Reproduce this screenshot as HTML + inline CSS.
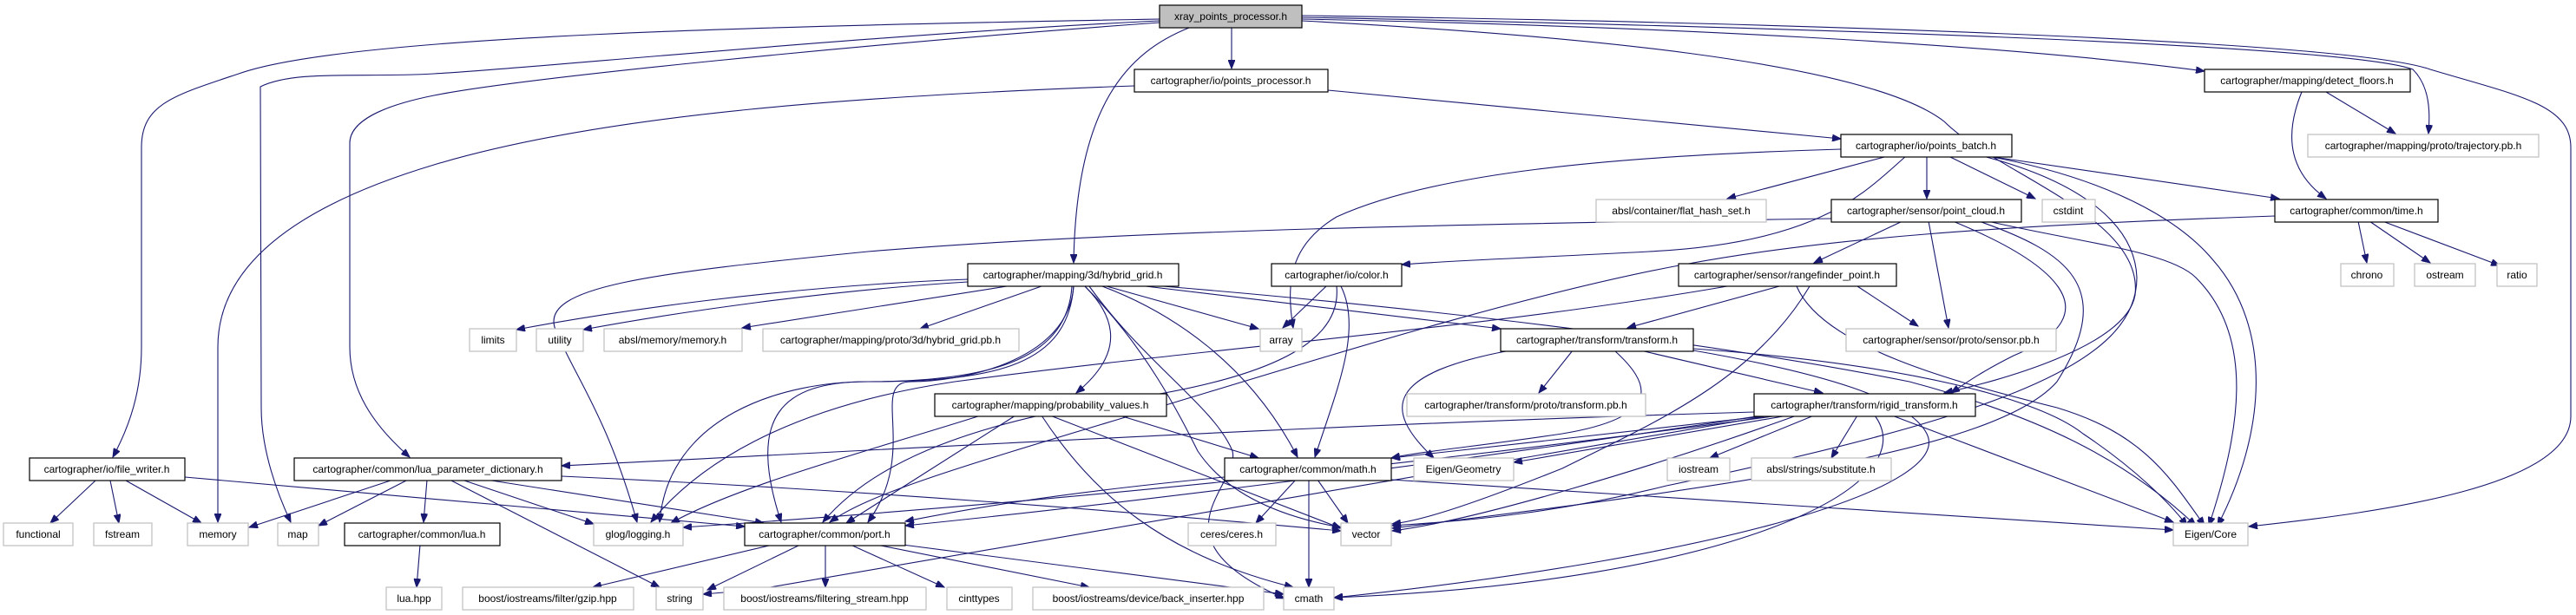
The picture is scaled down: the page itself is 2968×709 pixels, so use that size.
<!DOCTYPE html>
<html><head><meta charset="utf-8"><style>
html,body{margin:0;padding:0;background:#fff}
svg{display:block}
text{font-family:"Liberation Sans",Arial,sans-serif;font-size:12px;fill:#000}
.n rect{fill:#fff;stroke:#000;stroke-width:1.2}
.g rect{fill:#fff;stroke:#bfbfbf;stroke-width:1.2}
.e path{fill:none;stroke:#191970;stroke-width:1.1}
</style></head><body>
<svg width="2968" height="709" viewBox="0 0 2968 709" xmlns="http://www.w3.org/2000/svg">
<defs><marker id="a" markerWidth="11" markerHeight="8" refX="10" refY="4" orient="auto" markerUnits="userSpaceOnUse"><path d="M0,0 L10,4 L0,8 z" fill="#191970" stroke="#191970"/></marker></defs>
<g class="e" marker-end="url(#a)">
<!-- root -->
<path marker-end="url(#a)" d="M1336,22 C900,30 400,40 275,85 C200,110 163,120 163,170 L163,400 C163,450 150,490 130,527"/>
<path marker-end="url(#a)" d="M1336,24 C1000,40 600,80 500,85 C420,90 340,80 300,100 L301,470 C301,520 320,570 335,602"/>
<path marker-end="url(#a)" d="M1336,26 C1000,50 600,90 500,110 C440,122 403,140 403,165 L403,400 C403,450 430,490 472,527"/>
<path marker-end="url(#a)" d="M1370,32 C1300,60 1240,120 1237,303"/>
<path marker-end="url(#a)" d="M1419,32 L1419,79"/>
<path marker-end="url(#a)" d="M1500,22 C1900,30 2300,50 2540,82"/>
<path marker-end="url(#a)" d="M1500,20 C2000,30 2700,50 2780,80 C2800,100 2800,130 2798,154"/>
<path marker-end="url(#a)" d="M1500,18 C2000,25 2700,45 2800,80 C2900,110 2962,120 2962,170 L2962,480 C2962,560 2750,590 2591,607"/>
<path marker-end="url(#a)" d="M1500,24 C1800,40 2150,70 2240,140 C2300,200 2470,250 2460,340 C2450,400 2300,440 2240,453"/>
<!-- points_processor -->
<path marker-end="url(#a)" d="M1307,99 C1000,110 700,130 500,190 C300,250 251,330 251,400 L251,602"/>
<path marker-end="url(#a)" d="M1530,104 L2121,160"/>
<!-- points_batch -->
<path marker-end="url(#a)" d="M2121,172 C1850,180 1650,200 1540,250 C1490,280 1480,320 1490,378"/>
<path marker-end="url(#a)" d="M2175,180 L1990,229"/>
<path marker-end="url(#a)" d="M2220,180 L2220,229"/>
<path marker-end="url(#a)" d="M2196,180 C2150,220 2100,280 1900,290 C1750,298 1680,300 1615,305"/>
<path marker-end="url(#a)" d="M2245,180 L2345,229"/>
<path marker-end="url(#a)" d="M2290,180 L2626,229"/>
<path marker-end="url(#a)" d="M2290,180 C2400,200 2500,240 2550,300 C2620,380 2610,500 2555,606"/>
<path marker-end="url(#a)" d="M2285,180 C2400,210 2460,260 2462,320 C2462,420 2300,480 1920,560 C1800,590 1700,600 1604,606"/>
<!-- detect_floors -->
<path marker-end="url(#a)" d="M2680,106 L2760,154"/>
<path marker-end="url(#a)" d="M2652,106 C2630,160 2640,200 2680,229"/>
<!-- point_cloud -->
<path marker-end="url(#a)" d="M2110,252 C1700,258 1300,265 1000,290 C750,315 620,330 640,380 C660,430 700,480 734,602"/>
<path marker-end="url(#a)" d="M2192,255 L2090,303"/>
<path marker-end="url(#a)" d="M2222,255 L2245,378"/>
<path marker-end="url(#a)" d="M2250,255 C2360,300 2440,360 2320,410 C2280,430 2260,445 2248,453"/>
<path marker-end="url(#a)" d="M2280,255 C2380,290 2440,330 2370,440 C2300,520 2000,560 1604,609"/>
<path marker-end="url(#a)" d="M2290,255 C2400,280 2500,290 2530,320 C2600,390 2580,500 2545,606"/>
<!-- time.h -->
<path marker-end="url(#a)" d="M2621,249 C2300,260 2100,275 1940,305 C1750,340 1500,420 1300,480 C1100,540 1000,570 956,602"/>
<path marker-end="url(#a)" d="M2717,255 L2727,303"/>
<path marker-end="url(#a)" d="M2730,255 L2800,303"/>
<path marker-end="url(#a)" d="M2745,255 L2880,306"/>
<!-- color.h -->
<path marker-end="url(#a)" d="M1528,330 L1478,378"/>
<path marker-end="url(#a)" d="M1545,330 C1570,380 1540,450 1515,527"/>
<path marker-end="url(#a)" d="M1540,330 C1545,380 1500,430 1300,460 C1100,490 1000,540 948,602"/>
<!-- rangefinder -->
<path marker-end="url(#a)" d="M2050,330 L1875,378"/>
<path marker-end="url(#a)" d="M2140,330 L2210,376"/>
<path marker-end="url(#a)" d="M2085,330 C2020,440 1900,490 1800,540 C1700,580 1640,600 1604,604"/>
<path marker-end="url(#a)" d="M2070,330 C2100,400 2250,440 2370,470 C2470,500 2500,550 2540,606"/>
<path marker-end="url(#a)" d="M1990,330 C1700,380 1400,400 1100,440 C900,470 800,540 750,602"/>
<!-- hybrid_grid -->
<path marker-end="url(#a)" d="M1115,322 C900,330 700,360 595,380"/>
<path marker-end="url(#a)" d="M1115,325 C950,335 780,360 672,380"/>
<path marker-end="url(#a)" d="M1160,330 L855,378"/>
<path marker-end="url(#a)" d="M1200,330 L1060,379"/>
<path marker-end="url(#a)" d="M1275,330 L1450,379"/>
<path marker-end="url(#a)" d="M1320,330 L1729,379"/>
<path marker-end="url(#a)" d="M1250,330 C1300,380 1280,420 1240,453"/>
<path marker-end="url(#a)" d="M1235,330 C1230,410 1150,440 1000,440 C900,440 860,480 900,602"/>
<path marker-end="url(#a)" d="M1237,330 C1230,420 1150,440 1000,440 C900,440 770,480 760,602"/>
<path marker-end="url(#a)" d="M1250,330 C1320,400 1360,480 1380,520 C1420,580 1500,600 1545,608"/>
<path marker-end="url(#a)" d="M1255,330 C1320,420 1400,470 1420,520 C1430,560 1320,620 1480,690"/>
<path marker-end="url(#a)" d="M1270,330 C1350,360 1440,420 1495,527"/>
<path marker-end="url(#a)" d="M1340,330 C1700,360 2000,400 2200,440 C2350,480 2450,530 2530,606"/>
<path marker-end="url(#a)" d="M1237,330 C1230,420 1100,440 1050,440 C1000,440 1060,520 1000,602"/>
<!-- transform.h -->
<path marker-end="url(#a)" d="M1812,404 L1773,453"/>
<path marker-end="url(#a)" d="M1740,404 C1600,430 1590,470 1652,528"/>
<path marker-end="url(#a)" d="M1890,404 L2100,453"/>
<path marker-end="url(#a)" d="M1860,404 C1900,440 1920,480 1800,500 C1700,515 1640,520 1603,528"/>
<path marker-end="url(#a)" d="M1951,402 C2200,420 2350,460 2400,500 C2460,540 2500,580 2520,606"/>
<path marker-end="url(#a)" d="M1951,404 C2100,430 2200,460 2220,500 C2250,560 2000,640 1537,689"/>
<!-- probability_values -->
<path marker-end="url(#a)" d="M1290,479 L1450,528"/>
<path marker-end="url(#a)" d="M1130,479 C1000,520 850,560 773,603"/>
<path marker-end="url(#a)" d="M1170,479 L975,603"/>
<path marker-end="url(#a)" d="M1210,479 L1545,609"/>
<path marker-end="url(#a)" d="M1200,479 C1260,570 1340,640 1490,677"/>
<!-- rigid_transform -->
<path marker-end="url(#a)" d="M2021,475 C1500,490 1000,520 647,537"/>
<path marker-end="url(#a)" d="M2040,479 L1603,528"/>
<path marker-end="url(#a)" d="M2060,479 L1744,533"/>
<path marker-end="url(#a)" d="M2090,479 L1970,528"/>
<path marker-end="url(#a)" d="M2140,479 L2110,528"/>
<path marker-end="url(#a)" d="M2180,479 L2504,602"/>
<path marker-end="url(#a)" d="M2070,479 C1900,540 1700,600 1604,612"/>
<path marker-end="url(#a)" d="M2040,479 C1700,540 1200,620 870,680 L810,685"/>
<path marker-end="url(#a)" d="M2160,479 C2220,560 2000,670 1537,689"/>
<path marker-end="url(#a)" d="M2030,479 C1700,530 1300,580 1043,606"/>
<path marker-end="url(#a)" d="M2050,479 C1600,540 1200,580 787,608"/>
<!-- lua_param -->
<path marker-end="url(#a)" d="M453,553 L287,608"/>
<path marker-end="url(#a)" d="M470,553 L367,606"/>
<path marker-end="url(#a)" d="M492,553 L488,602"/>
<path marker-end="url(#a)" d="M532,553 L684,604"/>
<path marker-end="url(#a)" d="M560,553 L880,603"/>
<path marker-end="url(#a)" d="M518,553 L760,677"/>
<path marker-end="url(#a)" d="M647,549 C1000,565 1300,590 1545,612"/>
<!-- math.h -->
<path marker-end="url(#a)" d="M1493,553 L1447,603"/>
<path marker-end="url(#a)" d="M1518,553 L1553,603"/>
<path marker-end="url(#a)" d="M1508,553 L1508,677"/>
<path marker-end="url(#a)" d="M1603,553 L2504,611"/>
<path marker-end="url(#a)" d="M1411,550 C1200,570 1100,590 1043,601"/>
<!-- file_writer -->
<path marker-end="url(#a)" d="M110,554 L58,603"/>
<path marker-end="url(#a)" d="M127,554 L137,603"/>
<path marker-end="url(#a)" d="M145,554 L232,603"/>
<path marker-end="url(#a)" d="M213,550 L858,607"/>
<!-- lua.h -->
<path marker-end="url(#a)" d="M484,628 L480,677"/>
<!-- port.h -->
<path marker-end="url(#a)" d="M890,628 L683,677"/>
<path marker-end="url(#a)" d="M922,628 L815,680"/>
<path marker-end="url(#a)" d="M951,628 L951,677"/>
<path marker-end="url(#a)" d="M980,628 L1088,677"/>
<path marker-end="url(#a)" d="M1010,628 L1255,677"/>
<path marker-end="url(#a)" d="M1040,628 L1479,685"/>
</g>
<g class="g">
<rect x="1336" y="6" width="164" height="26" style="fill:#bfbfbf;stroke:#000"/><text x="1418" y="23" text-anchor="middle">xray_points_processor.h</text>
</g>
<g class="n">
<rect x="1307" y="80" width="223" height="26"/><text x="1418" y="97" text-anchor="middle">cartographer/io/points_processor.h</text>
<rect x="2540" y="80" width="237" height="26"/><text x="2658" y="97" text-anchor="middle">cartographer/mapping/detect_floors.h</text>
<rect x="2121" y="155" width="197" height="26"/><text x="2219" y="172" text-anchor="middle">cartographer/io/points_batch.h</text>
<rect x="2110" y="230" width="219" height="26"/><text x="2219" y="247" text-anchor="middle">cartographer/sensor/point_cloud.h</text>
<rect x="2621" y="230" width="188" height="26"/><text x="2715" y="247" text-anchor="middle">cartographer/common/time.h</text>
<rect x="1115" y="304" width="243" height="26"/><text x="1236" y="321" text-anchor="middle">cartographer/mapping/3d/hybrid_grid.h</text>
<rect x="1465" y="304" width="150" height="26"/><text x="1540" y="321" text-anchor="middle">cartographer/io/color.h</text>
<rect x="1934" y="304" width="251" height="26"/><text x="2059" y="321" text-anchor="middle">cartographer/sensor/rangefinder_point.h</text>
<rect x="1729" y="379" width="222" height="26"/><text x="1840" y="396" text-anchor="middle">cartographer/transform/transform.h</text>
<rect x="1077" y="454" width="267" height="26"/><text x="1210" y="471" text-anchor="middle">cartographer/mapping/probability_values.h</text>
<rect x="2021" y="454" width="255" height="26"/><text x="2148" y="471" text-anchor="middle">cartographer/transform/rigid_transform.h</text>
<rect x="34" y="528" width="179" height="26"/><text x="123" y="545" text-anchor="middle">cartographer/io/file_writer.h</text>
<rect x="339" y="528" width="308" height="26"/><text x="493" y="545" text-anchor="middle">cartographer/common/lua_parameter_dictionary.h</text>
<rect x="1411" y="528" width="192" height="26"/><text x="1507" y="545" text-anchor="middle">cartographer/common/math.h</text>
<rect x="397" y="603" width="179" height="26"/><text x="486" y="620" text-anchor="middle">cartographer/common/lua.h</text>
<rect x="858" y="603" width="185" height="26"/><text x="950" y="620" text-anchor="middle">cartographer/common/port.h</text>
</g>
<g class="g">
<rect x="2659" y="155" width="266" height="26"/><text x="2792" y="172" text-anchor="middle">cartographer/mapping/proto/trajectory.pb.h</text>
<rect x="1839" y="230" width="196" height="26"/><text x="1937" y="247" text-anchor="middle">absl/container/flat_hash_set.h</text>
<rect x="2353" y="230" width="61" height="26"/><text x="2383" y="247" text-anchor="middle">cstdint</text>
<rect x="2697" y="304" width="61" height="26"/><text x="2727" y="321" text-anchor="middle">chrono</text>
<rect x="2782" y="304" width="70" height="26"/><text x="2817" y="321" text-anchor="middle">ostream</text>
<rect x="2877" y="304" width="46" height="26"/><text x="2900" y="321" text-anchor="middle">ratio</text>
<rect x="541" y="379" width="54" height="26"/><text x="568" y="396" text-anchor="middle">limits</text>
<rect x="618" y="379" width="54" height="26"/><text x="645" y="396" text-anchor="middle">utility</text>
<rect x="696" y="379" width="159" height="26"/><text x="775" y="396" text-anchor="middle">absl/memory/memory.h</text>
<rect x="879" y="379" width="295" height="26"/><text x="1026" y="396" text-anchor="middle">cartographer/mapping/proto/3d/hybrid_grid.pb.h</text>
<rect x="1452" y="379" width="48" height="26"/><text x="1476" y="396" text-anchor="middle">array</text>
<rect x="2127" y="379" width="242" height="26"/><text x="2248" y="396" text-anchor="middle">cartographer/sensor/proto/sensor.pb.h</text>
<rect x="1621" y="454" width="275" height="26"/><text x="1758" y="471" text-anchor="middle">cartographer/transform/proto/transform.pb.h</text>
<rect x="1629" y="528" width="115" height="26"/><text x="1686" y="545" text-anchor="middle">Eigen/Geometry</text>
<rect x="1921" y="528" width="72" height="26"/><text x="1957" y="545" text-anchor="middle">iostream</text>
<rect x="2018" y="528" width="161" height="26"/><text x="2098" y="545" text-anchor="middle">absl/strings/substitute.h</text>
<rect x="4" y="603" width="80" height="26"/><text x="44" y="620" text-anchor="middle">functional</text>
<rect x="108" y="603" width="67" height="26"/><text x="141" y="620" text-anchor="middle">fstream</text>
<rect x="216" y="603" width="70" height="26"/><text x="251" y="620" text-anchor="middle">memory</text>
<rect x="320" y="603" width="47" height="26"/><text x="343" y="620" text-anchor="middle">map</text>
<rect x="684" y="603" width="103" height="26"/><text x="735" y="620" text-anchor="middle">glog/logging.h</text>
<rect x="1369" y="603" width="101" height="26"/><text x="1419" y="620" text-anchor="middle">ceres/ceres.h</text>
<rect x="1545" y="603" width="58" height="26"/><text x="1574" y="620" text-anchor="middle">vector</text>
<rect x="2504" y="603" width="86" height="26"/><text x="2547" y="620" text-anchor="middle">Eigen/Core</text>
<rect x="445" y="677" width="64" height="26"/><text x="477" y="694" text-anchor="middle">lua.hpp</text>
<rect x="533" y="677" width="197" height="26"/><text x="631" y="694" text-anchor="middle">boost/iostreams/filter/gzip.hpp</text>
<rect x="756" y="677" width="54" height="26"/><text x="783" y="694" text-anchor="middle">string</text>
<rect x="834" y="677" width="233" height="26"/><text x="950" y="694" text-anchor="middle">boost/iostreams/filtering_stream.hpp</text>
<rect x="1091" y="677" width="75" height="26"/><text x="1128" y="694" text-anchor="middle">cinttypes</text>
<rect x="1190" y="677" width="266" height="26"/><text x="1323" y="694" text-anchor="middle">boost/iostreams/device/back_inserter.hpp</text>
<rect x="1479" y="677" width="58" height="26"/><text x="1508" y="694" text-anchor="middle">cmath</text>
</g>
</svg>
</body></html>
